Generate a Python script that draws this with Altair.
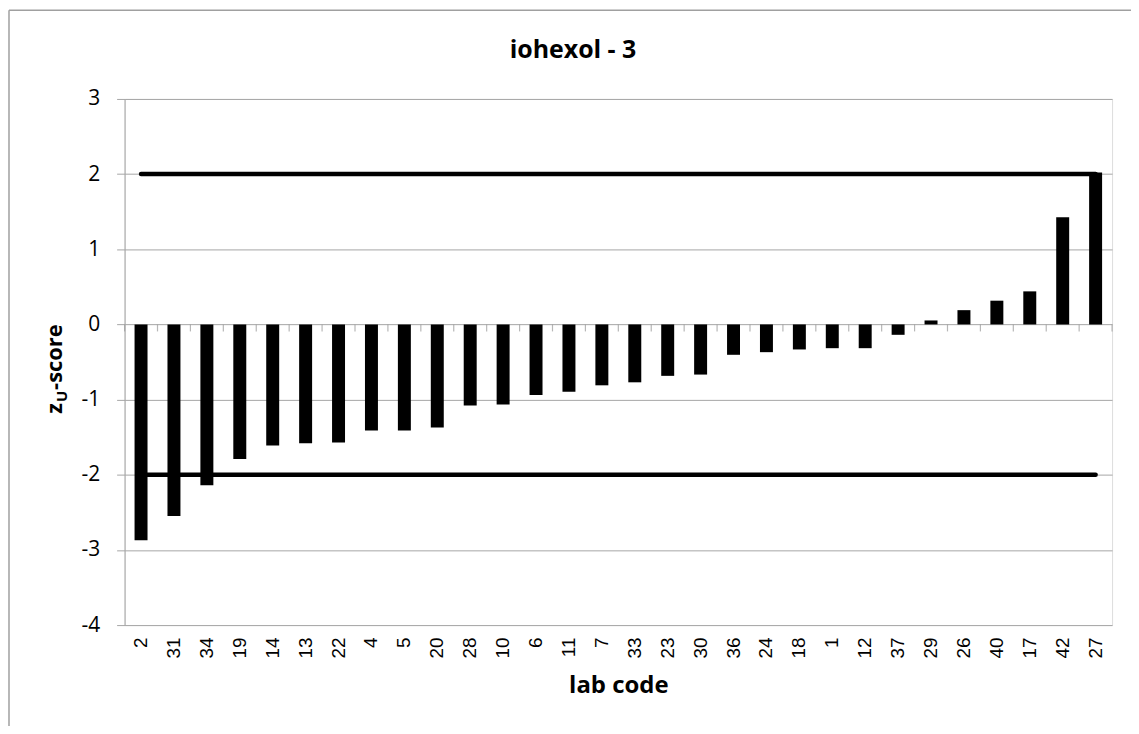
import altair as alt
import pandas as pd

# ---- data ----
labs = ["2", "31", "34", "19", "14", "13", "22", "4", "5", "20", "28", "10", "6", "11", "7",
        "33", "23", "30", "36", "24", "18", "1", "12", "37", "29", "26", "40", "17", "42", "27"]
zscores = [-2.87, -2.55, -2.14, -1.79, -1.61, -1.58, -1.57, -1.41, -1.41, -1.37, -1.08, -1.065,
           -0.94, -0.895, -0.81, -0.77, -0.684, -0.667, -0.404, -0.369, -0.333, -0.316, -0.316,
           -0.138, 0.053, 0.19, 0.316, 0.44, 1.427, 2.02]
limits = [2, -2]
y_ticks = [-4, -3, -2, -1, 0, 1, 2, 3]
title_text = "iohexol - 3"

bars_df = pd.DataFrame({"lab": labs, "z": zscores})
lines_df = pd.DataFrame([{"lab": l, "limit": v} for v in limits for l in labs])
ticks_df = pd.DataFrame({"lab": labs, "zero": [0] * len(labs)})
last_df = pd.DataFrame({"lab": [labs[-1]], "zero": [0]})

W, H = 991, 528
GRAY = "#a6a6a6"
P_IN = 0.606
P_OUT = P_IN / 2
STEP = W / len(labs)
EDGE = (P_IN / 2) * STEP  # gap from bar edge to category boundary, px

xscale = alt.Scale(domain=labs, paddingInner=P_IN, paddingOuter=P_OUT)
yscale = alt.Scale(domain=[-4, 3], nice=False, zero=False)

bars = alt.Chart(bars_df).mark_bar(color="black").encode(
    x=alt.X("lab:N", sort=labs, scale=xscale,
            axis=alt.Axis(orient="bottom", labelAngle=270, labelFont="Liberation Sans",
                          labelFontSize=19, labelColor="black", labelPadding=12,
                          ticks=False, domain=False, grid=False,
                          title="lab code", titleFont="Open Sans", titleFontSize=24,
                          titleFontWeight="bold", titleColor="black",
                          titleY=68, titleBaseline="alphabetic")),
    y=alt.Y("z:Q", scale=yscale,
            axis=alt.Axis(values=y_ticks, labelExpr="'' + datum.value", title=None,
                          grid=True, gridColor=GRAY,
                          domainColor=GRAY, tickColor=GRAY, tickSize=8,
                          labelFont="Open Sans", labelFontSize=21, labelColor="black",
                          labelPadding=17)),
)

# category tick marks hanging below the zero line
zero_ticks = alt.Chart(ticks_df).mark_tick(
    orient="vertical", color="#999999", size=7, thickness=1.2, yOffset=3.5,
    xOffset=-EDGE).encode(
    x=alt.X("lab:N", sort=labs, scale=xscale, bandPosition=0),
    y=alt.Y("zero:Q", scale=yscale),
)
zero_tick_end = alt.Chart(last_df).mark_tick(
    orient="vertical", color="#999999", size=7, thickness=1.2, yOffset=3.5,
    xOffset=EDGE).encode(
    x=alt.X("lab:N", sort=labs, scale=xscale, bandPosition=1),
    y=alt.Y("zero:Q", scale=yscale),
)

lines = alt.Chart(lines_df).mark_line(color="black", strokeWidth=4.5, strokeCap="round").encode(
    x=alt.X("lab:N", sort=labs, scale=xscale),
    y=alt.Y("limit:Q", scale=yscale),
    detail="limit:N",
)

# chart title
title = alt.Chart(pd.DataFrame({"t": [title_text]})).mark_text(
    align="center", baseline="alphabetic", font="Open Sans", fontSize=25,
    fontWeight="bold", color="black").encode(text="t:N", x=alt.value(450), y=alt.value(-41))

# y-axis title with subscript, as text pieces
ytitle_z = alt.Chart(pd.DataFrame({"t": ["z"]})).mark_text(
    angle=270, align="left", baseline="alphabetic", font="Open Sans", fontSize=22,
    fontWeight="bold", color="black").encode(text="t:N", x=alt.value(-63), y=alt.value(316))
ytitle_u = alt.Chart(pd.DataFrame({"t": ["U"]})).mark_text(
    angle=270, align="left", baseline="alphabetic", font="Open Sans", fontSize=15,
    fontWeight="bold", color="black").encode(text="t:N", x=alt.value(-58), y=alt.value(304))
ytitle_s = alt.Chart(pd.DataFrame({"t": ["-score"]})).mark_text(
    angle=270, align="left", baseline="alphabetic", font="Open Sans", fontSize=22,
    fontWeight="bold", color="black").encode(text="t:N", x=alt.value(-63), y=alt.value(292))

# outer chart border (left and top edges visible)
one = pd.DataFrame({"a": [0]})
border_left = alt.Chart(one).mark_rule(color="#a0a0a0", strokeWidth=1.5).encode(
    x=alt.value(-116), y=alt.value(-89), y2=alt.value(700))
border_top = alt.Chart(one).mark_rule(color="#a0a0a0", strokeWidth=1.5).encode(
    x=alt.value(-116), x2=alt.value(1100), y=alt.value(-89))

chart = alt.layer(
    bars, zero_ticks, zero_tick_end, lines, title, ytitle_z, ytitle_u, ytitle_s,
    border_left, border_top
).properties(
    width=W, height=H,
    autosize=alt.AutoSizeParams(type="none"),
    padding={"left": 117, "top": 90, "right": 19, "bottom": 100},
).configure_view(stroke=None).configure(background="white")

chart.save("out.html", embed_options={"renderer": "svg", "actions": False})
